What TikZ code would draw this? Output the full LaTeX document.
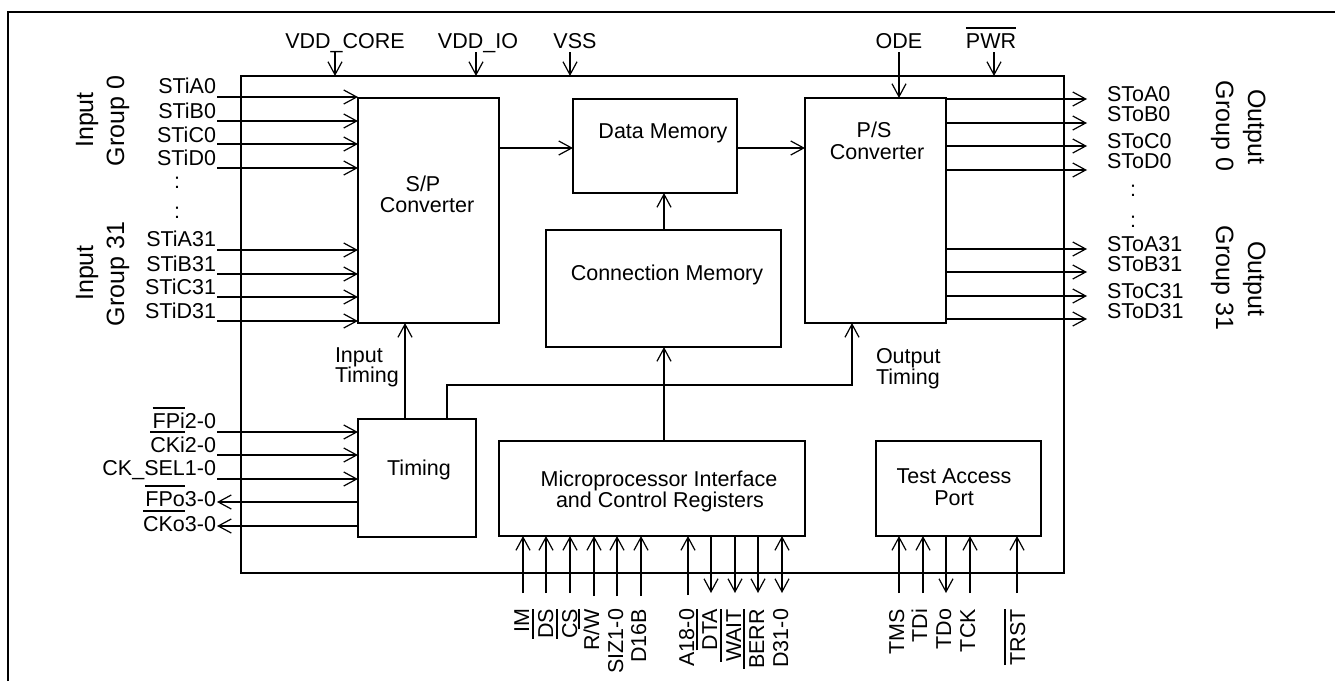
\documentclass[tikz,border=0pt]{standalone}
\usepackage{fontspec}
\setmainfont{Liberation Sans}
\usetikzlibrary{arrows.meta,calc}
\newcommand{\ob}[1]{\setbox0=\hbox{#1}\rlap{\raisebox{19.5pt}{\rule{\wd0}{1.8pt}}}\box0 }
\tikzset{
  blockbox/.style={draw=black,line width=2pt,inner sep=0pt,outer sep=0pt,fill=none},
  sig/.style={inner sep=0pt,outer sep=0pt,font=\fontsize{21.5}{21.5}\selectfont,text=black},
  lbl/.style={sig,anchor=base},
  lblr/.style={sig,anchor=base east},
  lbll/.style={sig,anchor=base west},
  vlbl/.style={sig,anchor=base east,rotate=90},
  grp/.style={inner sep=0pt,outer sep=0pt,font=\fontsize{25}{25}\selectfont,anchor=base},
  wire/.style={draw=black,line width=2pt},
  arr/.style={wire,-{Straight Barb[length=13pt,width=14pt,line width=1.2pt]}},
  rarr/.style={wire,{Straight Barb[length=13pt,width=14pt,line width=1.2pt]}-},
  barr/.style={wire,{Straight Barb[length=13pt,width=14pt,line width=1.2pt]}-{Straight Barb[length=13pt,width=14pt,line width=1.2pt]}},
}
\begin{document}
\begin{tikzpicture}[x=1pt,y=-1pt]
\useasboundingbox (0,0) rectangle (1335,681);
% page frame
\draw[wire] (8,681) -- (8,12) -- (1335,12);
% blocks
\node[blockbox,minimum width=823pt,minimum height=497pt] (chip) at (652.5,324.5) {};
\node[blockbox,minimum width=141pt,minimum height=225pt] (sp) at (428.5,210.5) {};
\node[blockbox,minimum width=164pt,minimum height=94pt] (dm) at (655,146) {};
\node[blockbox,minimum width=235pt,minimum height=117pt] (cm) at (663.5,288.5) {};
\node[blockbox,minimum width=141pt,minimum height=225pt] (ps) at (875.5,210.5) {};
\node[blockbox,minimum width=118pt,minimum height=118pt] (tm) at (417,478) {};
\node[blockbox,minimum width=306pt,minimum height=95pt] (mp) at (652,488.5) {};
\node[blockbox,minimum width=165pt,minimum height=95pt] (tp) at (958.5,488.5) {};
% block texts
\node[lbl] (t1) at (423,191) {S/P};
\node[lbl] (t2) at (427,212) {Converter};
\node[lbl] (t3) at (874,137) {P/S};
\node[lbl] (t4) at (877,159) {Converter};
\node[lbl] (t5) at (663,138) {Data Memory};
\node[lbl] (t6) at (667,280) {Connection Memory};
\node[lbl] (t7) at (419,475) {Timing};
\node[lbl] (t8) at (659,486) {Microprocessor Interface};
\node[lbl] (t9) at (660,507) {and Control Registers};
\node[lbl] (t10) at (954,483) {Test Access};
\node[lbl] (t11) at (954,505) {Port};
\node[lbll] (t12) at (335,362) {Input};
\node[lbll] (t13) at (335,382) {Timing};
\node[lbll] (t14) at (876,363) {Output};
\node[lbll] (t15) at (876,384) {Timing};
% top pins
\node[lbl] (vc) at (345,48) {VDD\_CORE};
\node[lbl] (vi) at (478,48) {VDD\_IO};
\node[lbl] (vs) at (575,48) {VSS};
\node[lbl] (ode) at (899,48) {ODE};
\node[lbl] (pwr) at (991,48) {\ob{PWR}};
\coordinate (cvc) at (335,52);
\coordinate (cvi) at (476,52);
\coordinate (cvs) at (570,52);
\coordinate (code) at (899,52);
\coordinate (cpwr) at (994,52);
\draw[arr] (cvc) -- (cvc |- chip.north);
\draw[arr] (cvi) -- (cvi |- chip.north);
\draw[arr] (cvs) -- (cvs |- chip.north);
\draw[arr] (cpwr) -- (cpwr |- chip.north);
\draw[arr] (code) -- (code |- ps.north);
% left group labels
\node[grp,rotate=90] (g1) at (93,120) {Input};
\node[grp,rotate=90] (g2) at (124,121) {Group 0};
\node[grp,rotate=90] (g3) at (93,273) {Input};
\node[grp,rotate=90] (g4) at (124,274) {Group 31};
% right group labels
\node[grp,rotate=-90] (g5) at (1248,127) {Output};
\node[grp,rotate=-90] (g6) at (1216,126) {Group 0};
\node[grp,rotate=-90] (g7) at (1248,279) {Output};
\node[grp,rotate=-90] (g8) at (1216,278) {Group 31};
% left serial inputs
\foreach \n/\base/\yy in {STiA0/93/97,STiB0/118/121,STiC0/142/144,STiD0/165/168,STiA31/246/250,STiB31/271/274,STiC31/294/297,STiD31/318/321}{
  \node[lblr] (l\n) at (216,\base) {\n};
  \coordinate (c\n) at (217,\yy);
  \draw[arr] (c\n) -- (c\n -| sp.west);
}
\node[lbl] (d1) at (177,188) {:};
\node[lbl] (d2) at (177,218) {:};
% right serial outputs
\foreach \n/\base/\yy in {SToA0/101/99,SToB0/121/123,SToC0/148/146,SToD0/168/170,SToA31/251/249,SToB31/271/272,SToC31/298/296,SToD31/318/319}{
  \node[lbll] (r\n) at (1107,\base) {\n};
  \coordinate (c\n) at (1087,\yy);
  \draw[arr] (c\n -| ps.east) -- (c\n);
}
\node[lbl] (d3) at (1133,196) {:};
\node[lbl] (d4) at (1133,227) {:};
% timing pins
\node[lblr] (fpi) at (216,428) {\ob{FPi}2-0};
\node[lblr] (cki) at (216,452) {\ob{CKi}2-0};
\node[lblr] (cks) at (216,475) {CK\_SEL1-0};
\node[lblr] (fpo) at (216,506) {\ob{FPo}3-0};
\node[lblr] (cko) at (216,531) {\ob{CKo}3-0};
\foreach \n/\yy in {fpi/432,cki/455,cks/479}{
  \coordinate (c\n) at (217,\yy);
  \draw[arr] (c\n) -- (c\n -| tm.west);
}
\foreach \n/\yy in {fpo/502,cko/526}{
  \coordinate (c\n) at (217,\yy);
  \draw[arr] (c\n -| tm.west) -- (c\n);
}
% internal connectors
\coordinate (a1) at (0,148);
\draw[arr] (a1 -| sp.east) -- (a1 -| dm.west);
\draw[arr] (a1 -| dm.east) -- (a1 -| ps.west);
\coordinate (a2) at (664,0);
\draw[arr] (a2 |- cm.north) -- (a2 |- dm.south);
\draw[arr] (a2 |- mp.north) -- (a2 |- cm.south);
\coordinate (a3) at (405,0);
\draw[arr] (a3 |- tm.north) -- (a3 |- sp.south);
\coordinate (a4) at (447,385);
\coordinate (a5) at (852,385);
\draw[arr] (a4 |- tm.north) -- (a4) -- (a5) -- (a5 |- ps.south);
% bottom pins
\foreach \n/\txt/\xx/\base/\pend in {im/IM/523/529/593,ds/\ob{DS}/546/553/593,cs/\ob{CS}/570/577/593,rw/R\slash\ob{W}/594/599/596,siz/SIZ1-0/617/623/596,dsb/D16B/641/646/596,adr/A18-0/688/694/595}{
  \node[vlbl] (b\n) at (\base,609) {\txt};
  \coordinate (c\n) at (\xx,\pend);
  \draw[arr] (c\n) -- (c\n |- mp.south);
}
\foreach \n/\txt/\xx/\base in {dta/\ob{DTA}/711/717,wt/\ob{WAIT}/735/741,ber/\ob{BERR}/758/764}{
  \node[vlbl] (b\n) at (\base,609) {\txt};
  \coordinate (c\n) at (\xx,593);
  \draw[arr] (c\n |- mp.south) -- (c\n);
}
\node[vlbl] (bdat) at (788,609) {D31-0};
\coordinate (cdat) at (782,593);
\draw[barr] (cdat) -- (cdat |- mp.south);
\foreach \n/\txt/\xx/\base in {tms/TMS/899/904,tdi/TDi/923/927,tck/TCK/970/975,trs/\ob{TRST}/1017/1025}{
  \node[vlbl] (b\n) at (\base,609) {\txt};
  \coordinate (c\n) at (\xx,593);
  \draw[arr] (c\n) -- (c\n |- tp.south);
}
\node[vlbl] (btdo) at (951,609) {TDo};
\coordinate (ctdo) at (946,593);
\draw[arr] (ctdo |- tp.south) -- (ctdo);
\end{tikzpicture}
\end{document}
